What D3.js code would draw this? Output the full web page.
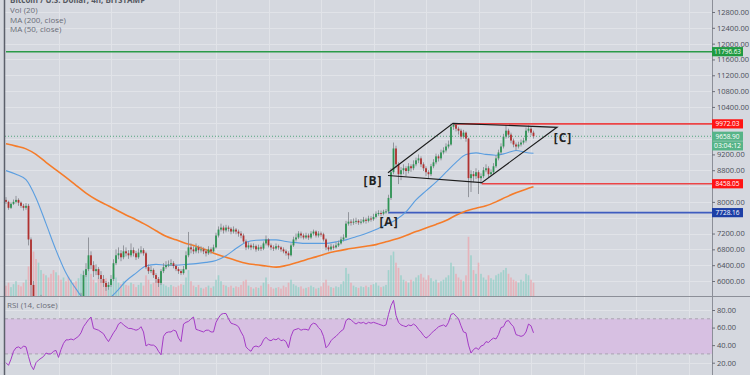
<!DOCTYPE html>
<html>
<head>
<meta charset="utf-8">
<script src="https://cdn.jsdelivr.net/npm/d3@7"></script>
<style>
html, body { margin: 0; padding: 0; background: #d5d8df; }
svg { display: block; font-family: "Open Sans", "Liberation Sans", sans-serif; }
</style>
</head>
<body>
<svg id="chart" width="750" height="375"></svg>
<script>
// BTC/USD 4h (drawn as 8h candles), Mar 9 - May 19 2020
const closes = [
8000,7850,7950,8000,8050,7980,7900,7850,7900,
7050,5900,4900,4300,5100,5500,5300,5350,5200,5000,
4900,5350,5200,5000,5300,5250,5100,5350,5300,5200,
5400,5600,6150,6300,6650,6400,6250,6300,6150,6050,
5950,5850,5900,6050,6450,6650,6700,6600,6750,6700,
6650,6780,6700,6600,6720,6780,6700,6350,6250,6280,
6150,6050,5950,6250,6350,6400,6420,6450,6380,6300,
6250,6200,6300,6650,6850,6800,6750,6850,6780,6800,
6750,6700,6800,6750,6850,7150,7300,7350,7280,7350,
7320,7250,7300,7250,7200,7150,7000,6850,6900,6850,
6880,6800,6850,6820,6950,7050,6900,6850,6820,6880,
6850,6800,6750,6700,6650,6900,7050,7100,7200,7150,
7100,7150,7100,7200,7250,7150,7200,7180,7050,6850,
6800,6870,6850,6900,6950,7050,7100,7450,7500,7480,
7500,7520,7480,7500,7550,7520,7580,7560,7620,7700,
7720,7700,7750,7760,8100,8750,9350,8950,8700,8800,
8850,8780,8900,8850,8950,9050,9100,8950,8850,8750,
8700,8900,9000,9150,9100,9250,9300,9400,9450,9900,
9950,9850,9800,9650,9750,9600,8600,8700,8650,8750,
8600,8650,8800,8850,8700,8750,8900,9100,9250,9400,
9650,9800,9700,9550,9450,9400,9450,9500,9550,9800,
9850,9750,9658.9
];
const firstOpen = 8050;
const highs = [
8120,8030,7990,8060,8150,8090,8010,7950,7970,
7950,7100,6000,5000,5200,5650,5600,5450,5400,5300,
5100,5400,5450,5300,5350,5400,5300,5400,5420,5380,
5450,5700,6250,6450,7100,6750,6500,6420,6350,6250,
6150,6000,5980,6150,6550,6800,6850,6780,6900,6850,
6780,6950,6850,6760,6820,6880,6830,6740,6420,6380,
6320,6200,6100,6300,6450,6500,6520,6550,6500,6420,
6350,6300,6380,6750,7240,6950,6880,6950,6900,6880,
6850,6800,6880,6850,6920,7220,7380,7450,7400,7420,
7400,7360,7380,7340,7300,7260,7200,7050,6980,6950,
6950,6920,6920,6900,7000,7150,7080,6950,6900,6950,
6920,6880,6850,6800,6750,6950,7120,7200,7260,7250,
7200,7220,7200,7260,7300,7280,7260,7250,7220,7080,
6900,6940,6920,6980,7020,7120,7180,7520,7740,7560,
7580,7600,7560,7570,7620,7600,7650,7640,7700,7760,
7790,7780,7800,7820,8180,8850,9500,9420,9000,8880,
8950,8900,8980,8950,9050,9120,9200,9150,9000,8900,
8800,8960,9080,9220,9200,9320,9380,9480,9550,9980,
9972,9990,9900,9850,9820,9780,9620,8800,8780,8850,
8800,8720,8880,8950,8900,8820,8980,9180,9320,9480,
9720,9940,9850,9750,9600,9500,9520,9580,9620,9880,
9930,9900,9800
];
const lows = [
7950,7800,7820,7920,7960,7900,7850,7780,7800,
6900,5500,4700,3850,4200,5000,5200,5200,5100,4900,
4450,4850,5100,4950,4950,5150,5050,5050,5200,5150,
5150,5350,5550,6100,6250,6300,6100,6150,6050,5950,
5850,5750,5780,5850,6000,6400,6550,6500,6550,6620,
6560,6600,6620,6530,6560,6680,6640,6300,6180,6200,
6080,5950,5850,5900,6200,6300,6350,6380,6320,6250,
6180,6150,6160,6280,6600,6700,6680,6700,6700,6720,
6680,6620,6660,6680,6720,6820,7100,7250,7200,7230,
7250,7180,7200,7180,7120,7080,6950,6780,6800,6780,
6800,6740,6760,6760,6780,6900,6850,6780,6760,6780,
6790,6740,6700,6640,6550,6620,6860,7000,7060,7080,
7050,7060,7040,7060,7150,7100,7100,7120,7000,6780,
6750,6770,6790,6820,6860,6920,7000,7080,7400,7400,
7420,7440,7420,7430,7460,7450,7480,7500,7520,7580,
7650,7640,7660,7700,7730,8050,8700,8850,8450,8550,
8700,8650,8720,8760,8800,8900,8980,8880,8780,8650,
8580,8650,8850,8950,9020,9050,9200,9250,9350,9420,
9820,9780,9700,9580,9600,9520,8120,8250,8500,8580,
8200,8450,8600,8750,8620,8650,8700,8860,9050,9200,
9350,9600,9620,9480,9380,9300,9350,9400,9450,9500,
9750,9680,9600
];
const volumes = [
14,18,12,16,20,15,13,18,22,
40,55,60,50,45,35,30,28,25,30,
35,32,28,22,25,20,26,22,18,20,
24,30,35,28,48,30,22,18,25,22,
20,24,18,22,30,25,18,16,20,15,
14,18,16,12,15,18,14,28,22,16,
18,22,25,20,16,14,12,15,13,12,
14,16,15,25,35,20,14,12,15,11,
10,12,14,11,13,22,28,20,15,14,
12,14,11,13,12,15,20,22,14,12,
10,12,11,14,18,25,16,12,10,11,
12,10,14,12,18,22,16,14,12,13,
10,11,12,14,12,10,11,13,18,22,
14,12,11,13,12,16,20,38,30,18,
14,12,11,13,12,14,12,15,16,18,
14,12,13,15,35,55,60,45,38,28,
22,20,18,22,20,25,28,30,25,22,
28,24,20,22,18,20,22,25,28,45,
40,30,25,22,20,28,80,55,35,30,
45,30,25,22,28,24,22,28,30,32,
35,38,30,25,22,20,18,22,20,30,
28,22,18
];
const rsiValues = [
20,17,24,33,37,38,36,39,38,
27,17,12,20,23,25,27,31,30,30,
33,34,26,35,42,46,46,47,46,48,
50,54,61,65,69,72,59,58,57,55,
53,48,44,49,54,58,64,66,63,61,
59,59,58,57,58,61,55,39,41,40,
40,38,33,29,50,54,55,55,57,56,
48,44,64,66,67,70,72,58,57,56,
55,57,57,55,55,66,71,75,76,76,
70,65,64,63,61,55,50,38,35,33,
38,39,38,40,46,49,46,45,47,46,
48,45,46,44,37,50,57,58,59,57,
58,58,57,63,65,64,60,57,50,37,
40,45,48,50,53,56,58,68,70,69,
66,64,66,65,66,64,66,65,66,65,
64,63,62,63,75,85,91,74,66,63,
62,61,63,62,64,62,58,55,51,48,
50,53,56,58,61,62,63,61,66,75,
76,73,70,62,55,54,40,31,35,37,
35,39,40,44,43,46,48,47,52,60,
61,67,68,64,61,52,51,50,51,55,
64,62,54
];
// moving averages sampled every 4th candle, last value at the final candle
const ma50 = [
8790,8700,8560,8100,7450,6780,6200,5800,5500,5450,5500,5720,6000,6200,6380,6420,
6400,6400,6420,6440,6470,6520,6640,6820,6980,7030,7040,7040,7000,6970,6950,6950,
6950,6990,7040,7120,7200,7300,7420,7550,7750,8050,8280,8500,8750,9000,9200,9240,
9200,9180,9230,9300,9250,9230
];
const ma200 = [
9470,9410,9340,9200,9000,8810,8620,8420,8220,8060,7930,7800,7670,7550,7420,7270,
7130,7040,6950,6880,6790,6680,6600,6520,6450,6410,6380,6350,6390,6460,6540,6610,
6690,6750,6800,6840,6880,6920,6990,7060,7150,7250,7340,7430,7530,7660,7770,7840,
7900,8000,8120,8230,8320,8380
];
// price labels that stay visible (the others sit under the level boxes)
const priceTicks = [6000,6400,6800,7200,8000,8800,9200,10400,10800,11200,11600,12000,12400,12800];
const gridPrices = [6000,6400,6800,7200,7600,8000,8400,8800,9200,9600,10000,10400,10800,11200,11600,12000,12400,12800];
const rsiTicks = [20, 40, 60, 80];
const gridDays = ["2020-03-16","2020-03-23","2020-04-01","2020-04-06","2020-04-13","2020-04-20",
  "2020-04-27","2020-05-04","2020-05-11","2020-05-18","2020-05-25","2020-06-01","2020-06-08"];
// horizontal levels: price and the candle index where they start
const levelPrices = [11796.63, 9972.03, 8458.05, 7728.16];
const levelStart = [0, 179, 190.3, 152.8];
const levelLabels = ["11796.63", "9972.03", "8458.05", "7728.16"];
const lastPrice = 9658.90;
const countdown = "03:04:12";
// channel drawing: [candle index, price]
const channel = [[152.8, 8738], [178.8, 9986], [220.4, 9885], [190.3, 8485], [152.8, 8667]];
const tags = [["[B]", 146.8, 8528], ["[A]", 153.2, 7491], ["[C]", 222.8, 9615]];
const legendLines = ["Vol (20)", "MA (200, close)", "MA (50, close)"];

const svg = d3.select("#chart");
const W = 750, L = 5, R = 712, mainB = 296, rsiT = 297, rsiB = 375;
const t0 = Date.UTC(2020, 2, 9), H8 = 8 * 3600e3;
const tAt = i => new Date(t0 + i * H8);
const x = d3.scaleUtc().domain([tAt(0), tAt(282.4)]).range([6, R]);
const y = d3.scaleLinear().domain([5621, 13103]).range([mainB, 0]);
const yv = d3.scaleLinear().domain([0, 100]).range([mainB, 222]);
const yr = d3.scaleLinear().domain([20, 80]).range([362.7, 310]);

const opens = closes.map((c, i) => i ? closes[i - 1] : firstOpen);
const candles = closes.map((c, i) => ({i, o: opens[i], c, h: highs[i], l: lows[i], v: volumes[i]}));

svg.append("rect").attr("width", W).attr("height", 375).attr("fill", "#d5d8df");
const defs = svg.append("defs");
defs.append("clipPath").attr("id", "cm").append("rect").attr("x", L).attr("y", 0).attr("width", R - L).attr("height", mainB);
defs.append("clipPath").attr("id", "cr").append("rect").attr("x", L).attr("y", rsiT).attr("width", R - L).attr("height", rsiB - rsiT);

// grid
const grid = svg.append("g").attr("stroke", "#e1e3e8").attr("stroke-width", 1);
grid.selectAll(".vg").data(gridDays).enter().append("line")
  .attr("x1", d => Math.round(x(new Date(d))) + 0.5).attr("x2", d => Math.round(x(new Date(d))) + 0.5)
  .attr("y1", 0).attr("y2", rsiB);
grid.selectAll(".hg").data(gridPrices).enter().append("line")
  .attr("x1", L).attr("x2", R).attr("y1", d => Math.round(y(d)) + 0.5).attr("y2", d => Math.round(y(d)) + 0.5);
grid.selectAll(".rg").data(rsiTicks).enter().append("line")
  .attr("x1", L).attr("x2", R).attr("y1", d => Math.round(yr(d)) + 0.5).attr("y2", d => Math.round(yr(d)) + 0.5);

// main pane
const main = svg.append("g").attr("clip-path", "url(#cm)");
main.append("g").selectAll("rect").data(candles).enter().append("rect")
  .attr("x", d => x(tAt(d.i)) - 0.8).attr("width", 1.6)
  .attr("y", d => yv(d.v)).attr("height", d => mainB - yv(d.v))
  .attr("fill", d => d.c >= d.o ? "#92d0c7" : "#eaa9b0").attr("opacity", 0.8);

main.append("line").attr("x1", L).attr("x2", R).attr("y1", y(lastPrice)).attr("y2", y(lastPrice))
  .attr("stroke", "#52a57c").attr("stroke-dasharray", "1,2");
levelPrices.forEach((p, k) => {
  const col = ["#2b9a48", "#ec4446", "#ec4446", "#3f5cbf"][k];
  main.append("line").attr("x1", x(tAt(levelStart[k]))).attr("x2", R)
    .attr("y1", y(p)).attr("y2", y(p)).attr("stroke", col).attr("stroke-width", 1.6);
});

const line = d3.line().x(d => x(tAt(d[0]))).y(d => y(d[1]));
const maIdx = d3.range(0, 209, 4).concat([211]);
main.append("path").datum(ma200.map((v, k) => [maIdx[k], v])).attr("d", line.curve(d3.curveMonotoneX))
  .attr("fill", "none").attr("stroke", "#f57c2a").attr("stroke-width", 1.6);
main.append("path").datum(ma50.map((v, k) => [maIdx[k], v])).attr("d", line.curve(d3.curveMonotoneX))
  .attr("fill", "none").attr("stroke", "#5b9ee0").attr("stroke-width", 1.1);

const cg = main.append("g");
cg.selectAll("line").data(candles).enter().append("line")
  .attr("x1", d => x(tAt(d.i))).attr("x2", d => x(tAt(d.i)))
  .attr("y1", d => y(d.h)).attr("y2", d => y(d.l)).attr("stroke", "#8a8d94").attr("stroke-width", 0.9);
cg.selectAll("rect").data(candles).enter().append("rect")
  .attr("x", d => x(tAt(d.i)) - 0.9).attr("width", 1.8)
  .attr("y", d => y(Math.max(d.o, d.c))).attr("height", d => Math.max(1, Math.abs(y(d.o) - y(d.c))))
  .attr("fill", d => d.c >= d.o ? "#2f9455" : "#b0312f");

main.append("path").datum(channel).attr("d", d3.line().x(d => x(tAt(d[0]))).y(d => y(d[1])))
  .attr("fill", "none").attr("stroke", "#1c1c1c").attr("stroke-width", 1.2);
main.selectAll(".tag").data(tags).enter().append("text")
  .attr("x", d => x(tAt(d[1]))).attr("y", d => y(d[2])).attr("dy", "0.35em")
  .attr("text-anchor", "middle").attr("font-size", 12).attr("font-weight", "bold")
  .attr("letter-spacing", 1).attr("fill", "#222").text(d => d[0]);

// RSI pane
const rp = svg.append("g").attr("clip-path", "url(#cr)");
rp.append("rect").attr("x", L).attr("width", R - L).attr("y", yr(70)).attr("height", yr(30) - yr(70)).attr("fill", "#d7c0e2");
[70, 30].forEach(v => rp.append("line").attr("x1", L).attr("x2", R).attr("y1", yr(v)).attr("y2", yr(v))
  .attr("stroke", "#a9a3b2").attr("stroke-dasharray", "3,3"));
rp.append("path").datum(rsiValues.map((v, i) => [i, v]))
  .attr("d", d3.line().x(d => x(tAt(d[0]))).y(d => yr(d[1])))
  .attr("fill", "none").attr("stroke", "#a43cc6").attr("stroke-width", 1);

// frame
svg.append("line").attr("x1", 0).attr("x2", W).attr("y1", mainB + 0.5).attr("y2", mainB + 0.5).attr("stroke", "#8c8f98");
svg.append("line").attr("x1", R + 0.5).attr("x2", R + 0.5).attr("y1", 0).attr("y2", rsiB).attr("stroke", "#8c8f98");
svg.append("line").attr("x1", 4.5).attr("x2", 4.5).attr("y1", 0).attr("y2", rsiB).attr("stroke", "#5c606b").attr("stroke-width", 1.5);

// axes
const fmt = d3.format(".2f");
const ax = svg.append("g").attr("transform", `translate(${R},0)`)
  .call(d3.axisRight(y).tickValues(priceTicks).tickSize(3).tickPadding(2).tickFormat(fmt));
const ar = svg.append("g").attr("transform", `translate(${R},0)`)
  .call(d3.axisRight(yr).tickValues(rsiTicks).tickSize(3).tickPadding(2).tickFormat(fmt));
[ax, ar].forEach(a => {
  a.select(".domain").remove();
  a.selectAll("line").attr("stroke", "#6d707a");
  a.selectAll("text").attr("font-size", 7.5).attr("fill", "#4b4e58").attr("font-family", "Open Sans, Liberation Sans, sans-serif");
});

// price boxes
const box = (yc, fill, txt) => {
  svg.append("rect").attr("x", R).attr("y", yc - 4.6).attr("width", 31).attr("height", 9.2).attr("fill", fill);
  svg.append("text").attr("x", R + 15.5).attr("y", yc).attr("dy", "0.35em").attr("text-anchor", "middle")
    .attr("font-size", 7.5).attr("textLength", txt.length > 7 ? 27 : 24).attr("lengthAdjust", "spacingAndGlyphs")
    .attr("fill", "#fff").text(txt);
};
const boxCols = ["#1f9a41", "#ff1414", "#ff1414", "#1d3fa6"];
levelPrices.forEach((p, k) => box(y(p), boxCols[k], levelLabels[k]));
box(y(lastPrice), "#56b488", fmt(lastPrice));
box(y(lastPrice) + 9.6, "#56b488", countdown);

// legends
const lg = svg.append("g").attr("font-size", 8).attr("fill", "#6a6d77");
lg.append("text").attr("x", 10).attr("y", 3).attr("font-weight", "bold").attr("fill", "#555862").text("Bitcoin / U.S. Dollar, 4h, BITSTAMP");
lg.selectAll(".lgl").data(legendLines).enter().append("text")
  .attr("x", 10).attr("y", (d, k) => 13 + k * 9.7).text(d => d);
lg.append("text").attr("x", 7).attr("y", 308).attr("font-size", 8).text("RSI (14, close)");
</script>
</body>
</html>
